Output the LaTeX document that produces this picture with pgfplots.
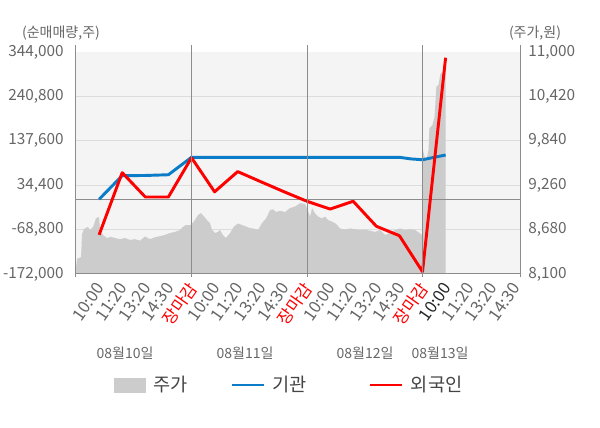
\documentclass[border=0pt]{standalone}
\usepackage{fontspec}
\setmainfont{Noto Sans CJK KR}
\usepackage{pgfplots}
\pgfplotsset{compat=1.18}
\definecolor{bggray}{HTML}{F4F4F4}
\definecolor{gridgray}{HTML}{DCDCDC}
\definecolor{areagray}{HTML}{CCCCCC}
\definecolor{axisgray}{HTML}{8C8C8C}
\definecolor{ticktext}{HTML}{666666}
\definecolor{legtext}{HTML}{444444}
\definecolor{instblue}{HTML}{0A7CC8}
\definecolor{forred}{HTML}{FF0000}

\pgfplotstableread{
x y
0.00 8100
0.00 8180
0.05 8300
0.22 8320
0.26 8620
0.35 8690
0.52 8715
0.61 8675
0.74 8715
0.87 8830
1.00 8845
1.04 8675
1.17 8610
1.34 8570
1.52 8585
1.69 8570
1.90 8555
2.12 8570
2.34 8545
2.55 8555
2.77 8535
2.99 8590
3.20 8555
3.42 8580
3.64 8595
3.85 8610
4.07 8635
4.29 8650
4.50 8675
4.63 8715
4.76 8740
4.98 8740
5.15 8805
5.28 8870
5.41 8895
5.54 8850
5.67 8805
5.80 8765
5.89 8675
6.02 8635
6.15 8650
6.23 8675
6.36 8610
6.49 8570
6.67 8635
6.84 8720
7.01 8760
7.19 8740
7.36 8720
7.53 8700
7.75 8690
7.88 8675
8.05 8765
8.23 8825
8.40 8935
8.53 8945
8.66 8910
8.83 8925
9.05 8910
9.26 8960
9.48 8980
9.70 9025
9.91 9015
10.00 8960
10.13 8850
10.22 8960
10.35 8890
10.48 8850
10.65 8825
10.78 8850
10.91 8805
11.08 8785
11.26 8755
11.43 8695
11.65 8680
11.86 8695
12.08 8685
12.29 8675
12.51 8680
12.73 8665
12.94 8650
13.16 8675
13.38 8610
13.59 8635
13.81 8675
14.03 8695
14.24 8675
14.46 8685
14.68 8675
14.89 8630
14.98 8610
15.00 9740
15.09 9630
15.17 9590
15.26 9720
15.30 10005
15.43 10045
15.52 10155
15.60 10545
15.69 10570
15.78 10720
15.87 10740
15.95 10785
16.00 10785
16.00 8100
}\pricetable

\pgfplotstableread{
x y
1 1600
2 56500
3 57000
4 58700
5 99200
6 99200
7 99200
8 99200
9 99200
10 99200
11 99200
12 99200
13 99200
14 99200
14.5 95500
15 93600
16 104600
}\insttable

\pgfplotstableread{
x y
1 -81000
2 63500
3 7000
4 7000
5 98300
6 19000
7 66000
8 42500
9 19300
10 -3000
11 -21000
12 -3000
13 -61000
14 -83000
15 -166600
16 330700
}\fortable

\begin{document}
\begin{tikzpicture}
\path[use as bounding box] (-57pt,-115.5pt) rectangle (393pt,205.5pt);
\fill[bggray] (0,0) rectangle (333pt,166.5pt);
% price axis (right)
\begin{axis}[
  at={(0,0)}, anchor=south west, scale only axis,
  width=333pt, height=166.5pt,
  xmin=0, xmax=19.22, ymin=8100, ymax=11000,
  scaled y ticks=false,
  axis line style={draw=none},
  tick style={draw=none}, major tick length=0pt,
  xtick=\empty,
  yticklabel pos=right,
  ytick={8100,8680,9260,9840,10420,11000},
  yticklabels={{8,100},{8,680},{9,260},{9,840},{10,420},{11,000}},
  yticklabel style={anchor=west, inner sep=0pt, xshift=6pt,
    font=\fontsize{11.5}{13}\selectfont, text=ticktext},
  extra y ticks={8680,9260,9840,10420},
  extra y tick labels={},
  extra y tick style={grid=major},
  major grid style={gridgray, line width=0.75pt},
]
\addplot[fill=areagray, draw=none] table[x=x,y=y] {\pricetable};
\end{axis}
% net buying axis (left)
\begin{axis}[
  at={(0,0)}, anchor=south west, scale only axis,
  width=333pt, height=166.5pt,
  xmin=0, xmax=19.22, ymin=-172000, ymax=344000,
  scaled y ticks=false, scaled x ticks=false,
  axis line style={draw=none},
  tick style={draw=none}, major tick length=0pt,
  clip=false,
  xtick={1,...,19},
  xticklabels={10:00,11:20,13:20,14:30,\textcolor{forred}{장마감},
               10:00,11:20,13:20,14:30,\textcolor{forred}{장마감},
               10:00,11:20,13:20,14:30,\textcolor{forred}{장마감},
               \textcolor{black!85}{10:00},11:20,13:20,14:30},
  xticklabel style={yshift=-8pt, xshift=1pt, rotate=55, anchor=east, inner sep=0pt,
    font=\fontsize{12.5}{14}\selectfont, text=ticktext},
  ytick={-172000,-68800,34400,137600,240800,344000},
  yticklabels={{-172,000},{-68,800},{34,400},{137,600},{240,800},{344,000}},
  yticklabel style={anchor=east, inner sep=0pt, xshift=-9pt,
    font=\fontsize{11.5}{13}\selectfont, text=ticktext},
  extra y ticks={0},
  extra y tick labels={},
  extra y tick style={grid=major, major grid style={axisgray, line width=0.75pt}},
  legend columns=3,
  legend style={at={(0.0856,-0.5)}, anchor=west, draw=none, fill=none,
    inner sep=0pt, outer sep=0pt, nodes={inner sep=0pt},
    font=\fontsize{14}{16}\selectfont, text=legtext,
    /tikz/every odd column/.append style={column sep=5.5pt},
    /tikz/every even column/.append style={column sep=0pt}},
]
\addlegendimage{legend image code/.code={\fill[areagray] (0pt,-5.4pt) rectangle (23.6pt,5.4pt);}}
\addlegendentry{\makebox[57.75pt][l]{주가}}
\addplot[instblue, line width=2.2pt, line join=round,
  legend image code/.code={\draw[instblue, line width=2.2pt] (0pt,0pt) -- (24pt,0pt);}] table[x=x,y=y] {\insttable};
\addlegendentry{\makebox[72pt][l]{기관}}
\addplot[forred, line width=2.2pt, line join=round,
  legend image code/.code={\draw[forred, line width=2.2pt] (0pt,0pt) -- (24pt,0pt);}] table[x=x,y=y] {\fortable};
\addlegendentry{외국인}
\end{axis}
% frame lines
\draw[axisgray, line width=0.75pt] (0,0) -- (333pt,0);
\foreach \xx in {0,86.63,173.26,259.89,333}
  \draw[axisgray, line width=0.75pt] (\xx pt,-2.25pt) -- (\xx pt,171.75pt);
% axis titles
\node[font=\fontsize{10.5}{12}\selectfont, text=ticktext] at (-11.25pt,180.75pt) {(순매매량,주)};
\node[font=\fontsize{10.5}{12}\selectfont, text=ticktext] at (344.25pt,180.75pt) {(주가,원)};
% date labels
\node[font=\fontsize{10.5}{12}\selectfont, text=ticktext] at (36.75pt,-59.25pt) {08월10일};
\node[font=\fontsize{10.5}{12}\selectfont, text=ticktext] at (126.75pt,-59.25pt) {08월11일};
\node[font=\fontsize{10.5}{12}\selectfont, text=ticktext] at (216.75pt,-59.25pt) {08월12일};
\node[font=\fontsize{10.5}{12}\selectfont, text=ticktext] at (273pt,-59.25pt) {08월13일};
\end{tikzpicture}
\end{document}
